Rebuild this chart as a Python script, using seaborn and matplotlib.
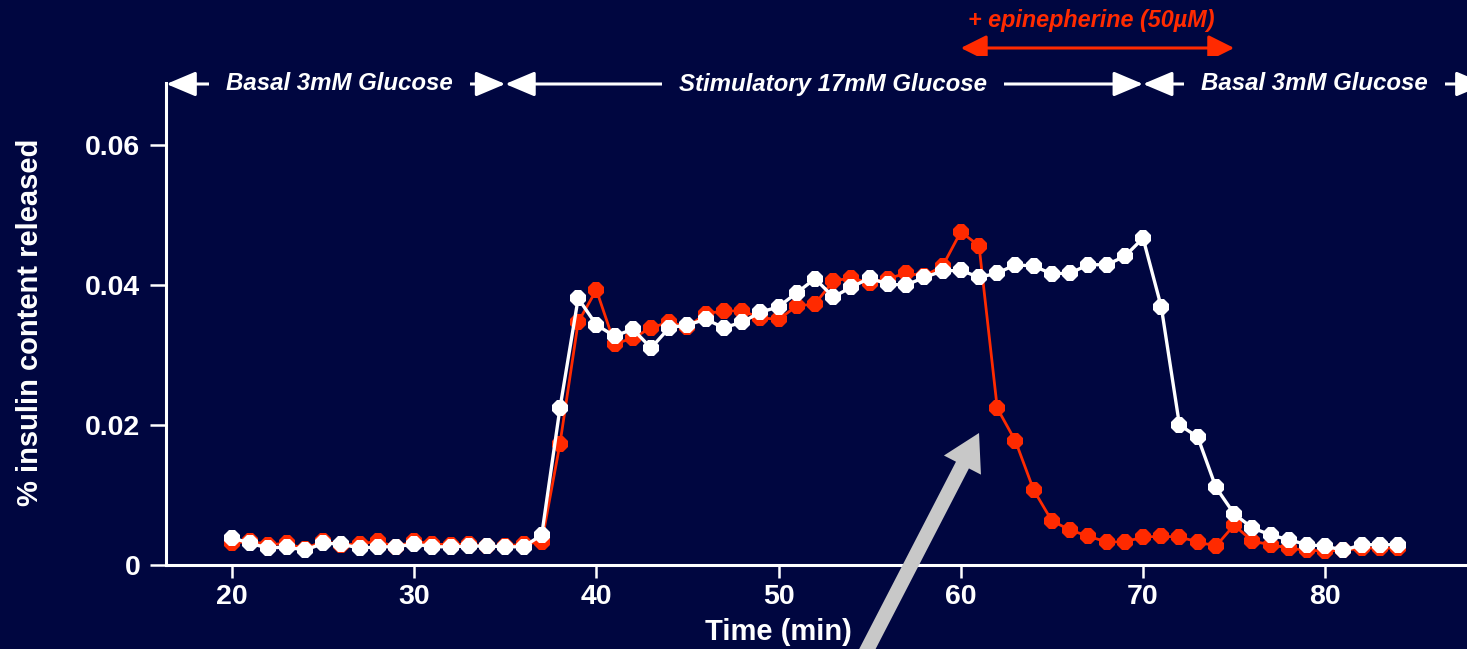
import matplotlib
matplotlib.use("Agg")
import matplotlib.pyplot as plt
import matplotlib.transforms as mtransforms
from matplotlib.ticker import FixedLocator, FixedFormatter
import pandas as pd
import seaborn as sns

# ---------------- data ----------------
time_min = list(range(20, 85))

control_17mM = [
    0.0039, 0.0031, 0.0024, 0.0026, 0.0021, 0.0031, 0.0030, 0.0024, 0.0026, 0.0026,  # 20-29
    0.0030, 0.0026, 0.0026, 0.0027, 0.0027, 0.0026, 0.0026, 0.0043, 0.0224, 0.0381,  # 30-39
    0.0343, 0.0327, 0.0337, 0.0310, 0.0339, 0.0343, 0.0351, 0.0339, 0.0347, 0.0361,  # 40-49
    0.0369, 0.0389, 0.0409, 0.0383, 0.0397, 0.0410, 0.0401, 0.0400, 0.0411, 0.0420,  # 50-59
    0.0421, 0.0411, 0.0417, 0.0429, 0.0427, 0.0416, 0.0417, 0.0429, 0.0429, 0.0441,  # 60-69
    0.0467, 0.0369, 0.0200, 0.0183, 0.0111, 0.0073, 0.0053, 0.0043, 0.0036, 0.0029,  # 70-79
    0.0027, 0.0021, 0.0029, 0.0029, 0.0029,                                          # 80-84
]

epinephrine_50uM = [
    0.0031, 0.0034, 0.0029, 0.0031, 0.0023, 0.0034, 0.0029, 0.0030, 0.0034, 0.0026,  # 20-29
    0.0034, 0.0030, 0.0029, 0.0030, 0.0027, 0.0027, 0.0030, 0.0033, 0.0173, 0.0347,  # 30-39
    0.0393, 0.0316, 0.0324, 0.0339, 0.0347, 0.0340, 0.0359, 0.0363, 0.0363, 0.0353,  # 40-49
    0.0351, 0.0370, 0.0373, 0.0406, 0.0410, 0.0403, 0.0409, 0.0417, 0.0413, 0.0427,  # 50-59
    0.0476, 0.0456, 0.0224, 0.0177, 0.0107, 0.0063, 0.0050, 0.0041, 0.0033, 0.0033,  # 60-69
    0.0040, 0.0041, 0.0040, 0.0033, 0.0027, 0.0057, 0.0034, 0.0029, 0.0024, 0.0021,  # 70-79
    0.0020, 0.0021, 0.0024, 0.0024, 0.0024,                                          # 80-84
]

x_ticks = [20, 30, 40, 50, 60, 70, 80]
x_tick_labels = ["20", "30", "40", "50", "60", "70", "80"]
y_ticks = [0, 0.02, 0.04, 0.06]
y_tick_labels = ["0", "0.02", "0.04", "0.06"]

phase_edges = [16.4, 35, 70, 88.8]
phase_label_centers = [25.9, 53.0, 79.4]
phase_labels = ["Basal 3mM Glucose", "Stimulatory 17mM Glucose", "Basal 3mM Glucose"]
epi_span = [60, 75]
epi_label = "+ epinepherine (50µM)"

x_label = "Time (min)"
y_label = "% insulin content released"

# ---------------- style ----------------
BG = "#000640"
RED = "#ff2a00"
WHITE = "#ffffff"
GRAY = "#c8c8c8"

sns.set_theme(style="ticks")
plt.rcParams["font.family"] = ["Liberation Sans", "DejaVu Sans"]
plt.rcParams["font.weight"] = "bold"

W, H = 1467, 649
fig = plt.figure(figsize=(W / 100, H / 100), dpi=100, facecolor=BG)
ax = fig.add_axes([166 / W, (H - 565) / H, (W - 166) / W, (565 - 83) / H])
ax.set_facecolor(BG)

df = pd.DataFrame({
    "time": time_min * 2,
    "value": epinephrine_50uM + control_17mM,
    "condition": ["epinephrine"] * len(time_min) + ["control"] * len(time_min),
})

sns.lineplot(data=df[df.condition == "epinephrine"], x="time", y="value",
             color=RED, linewidth=2.0, marker="8", markersize=12.5,
             markeredgewidth=0, estimator=None, sort=False, ax=ax, zorder=3)
sns.lineplot(data=df[df.condition == "control"], x="time", y="value",
             color=WHITE, linewidth=2.4, marker="8", markersize=13,
             markeredgewidth=0, estimator=None, sort=False, ax=ax, zorder=4)

ax.set_xlim(16.38, 87.78)
ax.set_ylim(0, 0.06886)

for s in ["top", "right"]:
    ax.spines[s].set_visible(False)
for s in ["left", "bottom"]:
    ax.spines[s].set_color(WHITE)
    ax.spines[s].set_linewidth(2.2)

ax.xaxis.set_major_locator(FixedLocator(x_ticks))
ax.xaxis.set_major_formatter(FixedFormatter(x_tick_labels))
ax.yaxis.set_major_locator(FixedLocator(y_ticks))
ax.yaxis.set_major_formatter(FixedFormatter(y_tick_labels))
ax.tick_params(axis="x", length=9.4, width=1.8, pad=4, labelsize=20.5,
               colors=WHITE, direction="out")
ax.tick_params(axis="y", length=11.5, width=1.8, pad=7, labelsize=20.5,
               colors=WHITE, direction="out")

ax.set_xlabel(x_label, fontsize=21, fontweight="bold", color=WHITE, va="center")
ax.xaxis.set_label_coords((778 - 166) / (W - 166), (565 - 632) / (565 - 83))
ax.set_ylabel(y_label, fontsize=21, fontweight="bold", color=WHITE,
              ha="center", va="center")
ax.yaxis.set_label_coords((30 - 166) / (W - 166), (565 - 322.5) / (565 - 83))

# ---------------- top annotations ----------------
trans = mtransforms.blended_transform_factory(ax.transData, fig.transFigure)
y_phase = (H - 84) / H
for i, lab in enumerate(phase_labels):
    x0, x1 = phase_edges[i], phase_edges[i + 1]
    ax.annotate("", xy=(x1, y_phase), xytext=(x0, y_phase),
                xycoords=("data", "figure fraction"),
                textcoords=("data", "figure fraction"),
                arrowprops=dict(arrowstyle="<|-|>,head_length=1.8,head_width=0.76",
                                mutation_scale=10, color=WHITE, lw=2.2,
                                shrinkA=0, shrinkB=0),
                annotation_clip=False, zorder=5)
    ax.text(phase_label_centers[i], y_phase, lab, transform=trans, ha="center",
            va="center", fontsize=17.3, fontweight="bold", fontstyle="italic",
            color=WHITE, zorder=6, clip_on=False,
            bbox=dict(boxstyle="square,pad=0.7", facecolor=BG, edgecolor="none"))

y_epi = (H - 48) / H
ax.annotate("", xy=(epi_span[1], y_epi), xytext=(epi_span[0], y_epi),
            xycoords=("data", "figure fraction"),
            textcoords=("data", "figure fraction"),
            arrowprops=dict(arrowstyle="<|-|>,head_length=1.58,head_width=0.79",
                            mutation_scale=10, color=RED, lw=2.2,
                            shrinkA=0, shrinkB=0),
            annotation_clip=False, zorder=5)
ax.text(sum(epi_span) / 2 - 0.35, (H - 21) / H, epi_label, transform=trans,
        ha="center", va="center", fontsize=16.8, fontweight="bold",
        fontstyle="italic", color=RED, clip_on=False)

# big gray pointer arrow
ax.annotate("", xy=(61.0, 0.01886), xytext=(54.0, -0.0164),
            arrowprops=dict(arrowstyle="simple,head_length=2.6,head_width=3.0,tail_width=1.05",
                            mutation_scale=10, color=GRAY, lw=0,
                            shrinkA=0, shrinkB=0),
            annotation_clip=False, zorder=10)

fig.savefig("out.png", dpi=100, facecolor=BG)
